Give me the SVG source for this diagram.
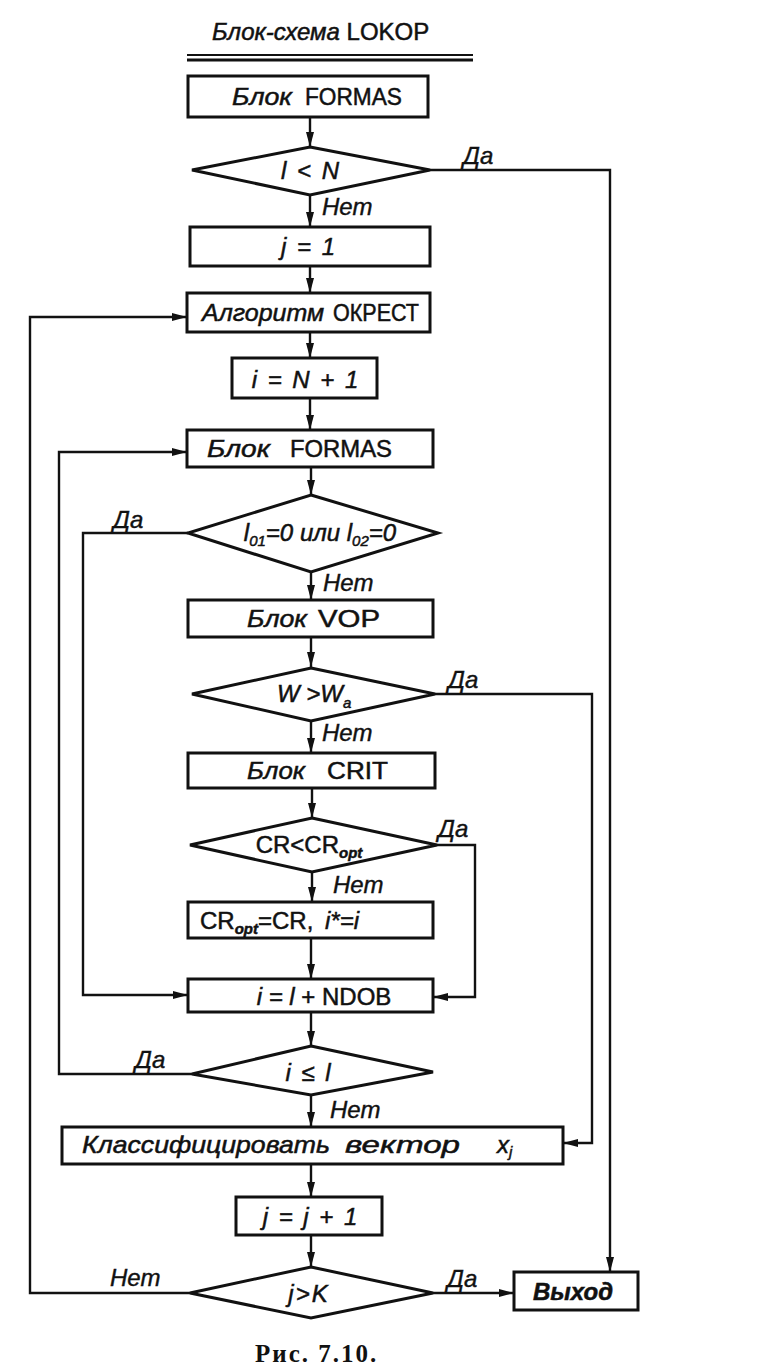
<svg xmlns="http://www.w3.org/2000/svg" width="768" height="1366" viewBox="0 0 768 1366">
<style>
.bg{fill:#fff}
.shape{fill:#fff;stroke:#111;stroke-width:3}
.con{fill:none;stroke:#111;stroke-width:2.4}
.t{font-family:"Liberation Sans","DejaVu Sans",sans-serif;font-size:24px;fill:#111;stroke:#111;stroke-width:0.5;text-anchor:middle}
.s{text-anchor:start}
.i{font-style:italic}
.m{letter-spacing:2px}
.lbl{font-family:"Liberation Sans","DejaVu Sans",sans-serif;font-size:24px;font-style:italic;fill:#111;stroke:#111;stroke-width:0.4}
.cap{font-family:"Liberation Serif","DejaVu Serif",serif;font-size:25px;font-weight:bold;fill:#111;text-anchor:start;letter-spacing:2px}
.sub{font-size:15px}
</style>
<defs>
<marker id="ah" markerUnits="userSpaceOnUse" markerWidth="15" markerHeight="10" refX="15" refY="5" orient="auto">
<path d="M0,1 L15,5 L0,9 z" fill="#111"/>
</marker>
</defs>
<rect class="bg" x="0" y="0" width="768" height="1366"/>

<g id="title">
<text class="t s" x="212" y="40"><tspan class="i">Блок-схема</tspan> LOKOP</text>
<line x1="187" y1="55" x2="473" y2="55" stroke="#111" stroke-width="2"/>
<line x1="187" y1="60" x2="473" y2="60" stroke="#111" stroke-width="3"/>
</g>

<g id="connectors">
<path class="con" marker-end="url(#ah)" d="M310,117 V147"/>
<path class="con" marker-end="url(#ah)" d="M310,195 V227"/>
<path class="con" marker-end="url(#ah)" d="M310,266 V293"/>
<path class="con" marker-end="url(#ah)" d="M310,332 V358"/>
<path class="con" marker-end="url(#ah)" d="M310,398 V430"/>
<path class="con" marker-end="url(#ah)" d="M311,467 V495"/>
<path class="con" marker-end="url(#ah)" d="M311,572 V600"/>
<path class="con" marker-end="url(#ah)" d="M311,637 V667"/>
<path class="con" marker-end="url(#ah)" d="M311,721 V753"/>
<path class="con" marker-end="url(#ah)" d="M312,788 V818"/>
<path class="con" marker-end="url(#ah)" d="M312,872 V902"/>
<path class="con" marker-end="url(#ah)" d="M311,938 V979"/>
<path class="con" marker-end="url(#ah)" d="M311,1012 V1046"/>
<path class="con" marker-end="url(#ah)" d="M311,1095 V1127"/>
<path class="con" marker-end="url(#ah)" d="M311,1164 V1197"/>
<path class="con" marker-end="url(#ah)" d="M311,1235 V1267"/>
<path class="con" marker-end="url(#ah)" d="M430,170 H610 V1272"/>
<path class="con" marker-end="url(#ah)" d="M188,533 H83 V995 H188"/>
<path class="con" marker-end="url(#ah)" d="M435,694 H592 V1143 H563"/>
<path class="con" marker-end="url(#ah)" d="M437,845 H475 V997 H433"/>
<path class="con" marker-end="url(#ah)" d="M192,1074 H59 V452 H187"/>
<path class="con" marker-end="url(#ah)" d="M190,1293 H30 V317 H187"/>
<path class="con" marker-end="url(#ah)" d="M433,1293 H514"/>
</g>

<g id="labels">
<text class="lbl" x="463" y="164">Да</text>
<text class="lbl" x="322" y="215">Нет</text>
<text class="lbl" x="113" y="528">Да</text>
<text class="lbl" x="323" y="591">Нет</text>
<text class="lbl" x="448" y="688">Да</text>
<text class="lbl" x="322" y="741">Нет</text>
<text class="lbl" x="438" y="837">Да</text>
<text class="lbl" x="333" y="893">Нет</text>
<text class="lbl" x="135" y="1068">Да</text>
<text class="lbl" x="330" y="1118">Нет</text>
<text class="lbl" x="110" y="1286">Нет</text>
<text class="lbl" x="447" y="1287">Да</text>
</g>

<g id="n1">
<rect class="shape" x="188" y="76" width="240" height="41"/>
<text class="t s i" x="232" y="105" textLength="60" lengthAdjust="spacingAndGlyphs">Блок</text>
<text class="t s" x="305" y="105" textLength="97" lengthAdjust="spacingAndGlyphs">FORMAS</text>
</g>
<g id="n2">
<polygon class="shape" points="310,147 430,170 310,195 192,170"/>
<text class="t i m" x="311" y="179">l &lt; N</text>
</g>
<g id="n3">
<rect class="shape" x="190" y="227" width="240" height="39"/>
<text class="t i m" x="309" y="255">j = 1</text>
</g>
<g id="n4">
<rect class="shape" x="187" y="293" width="243" height="39"/>
<text class="t s i" x="202" y="321" textLength="122" lengthAdjust="spacingAndGlyphs">Алгоритм</text>
<text class="t s" x="333" y="321" textLength="86" lengthAdjust="spacingAndGlyphs">ОКРЕСТ</text>
</g>
<g id="n5">
<rect class="shape" x="232" y="358" width="145" height="40"/>
<text class="t i m" x="306" y="388">i = N + 1</text>
</g>
<g id="n6">
<rect class="shape" x="187" y="430" width="246" height="37"/>
<text class="t s i" x="207" y="457" textLength="63" lengthAdjust="spacingAndGlyphs">Блок</text>
<text class="t s" x="290" y="457" textLength="102" lengthAdjust="spacingAndGlyphs">FORMAS</text>
</g>
<g id="n7">
<polygon class="shape" points="311,495 438,533 311,572 188,533"/>
<text class="t i" x="320" y="541">l<tspan class="sub" dy="5">01</tspan><tspan dy="-5">=0 или l</tspan><tspan class="sub" dy="5">02</tspan><tspan dy="-5">=0</tspan></text>
</g>
<g id="n8">
<rect class="shape" x="188" y="600" width="245" height="37"/>
<text class="t s i" x="247" y="627" textLength="60" lengthAdjust="spacingAndGlyphs">Блок</text>
<text class="t s" x="318" y="627" textLength="62" lengthAdjust="spacingAndGlyphs">VOP</text>
</g>
<g id="n9">
<polygon class="shape" points="311,668 435,694 311,721 192,694"/>
<text class="t s i" x="277" y="702">W &gt;W<tspan class="sub" dy="6">a</tspan></text>
</g>
<g id="n10">
<rect class="shape" x="188" y="753" width="247" height="35"/>
<text class="t s i" x="247" y="779" textLength="58" lengthAdjust="spacingAndGlyphs">Блок</text>
<text class="t s" x="327" y="779" textLength="61" lengthAdjust="spacingAndGlyphs">CRIT</text>
</g>
<g id="n11">
<polygon class="shape" points="312,818 437,845 312,872 190,845"/>
<text class="t" x="309" y="853">CR&lt;CR<tspan class="sub i" font-weight="bold" dy="5">opt</tspan></text>
</g>
<g id="n12">
<rect class="shape" x="188" y="902" width="245" height="36"/>
<text class="t s" x="200" y="929">CR<tspan class="sub i" font-weight="bold" dy="5">opt</tspan><tspan dy="-5">=CR,</tspan><tspan class="i" x="325">i*=i</tspan></text>
</g>
<g id="n13">
<rect class="shape" x="188" y="979" width="245" height="33"/>
<text class="t" x="324" y="1005"><tspan class="i">i = l</tspan> + NDOB</text>
</g>
<g id="n14">
<polygon class="shape" points="311,1046 433,1072 311,1095 192,1074"/>
<text class="t i m" x="309" y="1081">i ≤ l</text>
</g>
<g id="n15">
<rect class="shape" x="62" y="1127" width="501" height="37"/>
<text class="t i s" x="82" y="1153" textLength="248" lengthAdjust="spacingAndGlyphs">Классифицировать</text>
<text class="t i s" x="345" y="1153" textLength="115" lengthAdjust="spacingAndGlyphs">вектор</text>
<text class="t i s" x="497" y="1153">x<tspan class="sub" dy="4">j</tspan></text>
</g>
<g id="n16">
<rect class="shape" x="236" y="1197" width="146" height="38"/>
<text class="t i m" x="311" y="1225">j = j + 1</text>
</g>
<g id="n17">
<polygon class="shape" points="311,1267 433,1293 311,1318 190,1293"/>
<text class="t i m" x="309" y="1302">j&gt;K</text>
</g>
<g id="n18">
<rect class="shape" x="514" y="1272" width="124" height="38"/>
<text class="t i" x="573" y="1300" font-weight="bold">Выход</text>
</g>

<text class="cap" x="255" y="1362">Рис. 7.10.</text>
</svg>
